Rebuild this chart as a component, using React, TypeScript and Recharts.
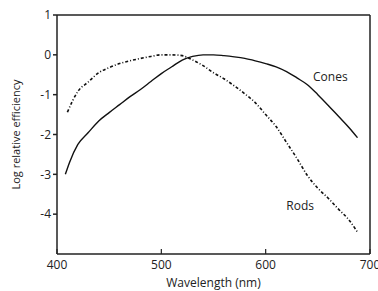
import { LineChart, Line, XAxis, YAxis, ReferenceLine, ReferenceDot } from "recharts"

// wavelength (nm) -> log relative efficiency
const coneWave = [408, 412, 420, 430, 440, 450, 460, 470, 480, 490, 500, 510, 520, 530, 540, 550, 560, 570, 580, 590, 600, 610, 620, 630, 640, 650, 660, 670, 680, 688]
const coneVals = [-3.0, -2.7, -2.25, -1.95, -1.66, -1.45, -1.25, -1.05, -0.87, -0.67, -0.47, -0.3, -0.13, -0.04, 0, 0, -0.02, -0.05, -0.09, -0.15, -0.22, -0.3, -0.42, -0.58, -0.75, -1.0, -1.27, -1.55, -1.83, -2.08]

const rodWave = [410, 415, 420, 430, 440, 450, 460, 470, 480, 490, 500, 510, 520, 530, 540, 550, 560, 570, 580, 590, 600, 610, 620, 630, 640, 650, 660, 670, 680, 688]
const rodVals = [-1.44, -1.15, -0.92, -0.68, -0.45, -0.32, -0.22, -0.15, -0.09, -0.04, 0, 0, -0.02, -0.13, -0.27, -0.45, -0.6, -0.78, -0.98, -1.2, -1.5, -1.8, -2.2, -2.6, -3.03, -3.35, -3.6, -3.88, -4.15, -4.45]

const xTicks = [400, 500, 600, 700]
const yTicks = [1, 0, -1, -2, -3, -4]

const cones = coneWave.map((w, i) => ({ w, v: coneVals[i] }))
const rods = rodWave.map((w, i) => ({ w, v: rodVals[i] }))

const ink = "#222"
const font = "'Open Sans', sans-serif"

// x ticks point into the plot, labels sit below the axis
const XTick = (props: any) => {
  const { x, y, payload } = props
  const axisY = y - 6
  return (
    <g>
      <line x1={x} x2={x} y1={axisY} y2={axisY - 5} stroke={ink} strokeWidth={1.2} />
      <text x={x} y={y} dy="0.71em" textAnchor="middle" fill={ink} fontSize={12} fontFamily={font}>
        {payload.value}
      </text>
    </g>
  )
}

export default function App() {
  return (
    <div style={{ position: "fixed", left: 0, top: 0, background: "#fff" }}>
      <LineChart width={378} height={291} margin={{ top: 15, right: 8, left: 0, bottom: 0 }}>
        <XAxis
          type="number"
          dataKey="w"
          domain={[400, 700]}
          ticks={xTicks}
          interval={0}
          allowDataOverflow
          height={37}
          stroke={ink}
          strokeWidth={1.5}
          tickSize={0}
          tickMargin={6}
          tick={<XTick />}
          label={{ value: "Wavelength (nm)", position: "insideBottom", offset: 4, fill: ink, fontSize: 12, fontFamily: font }}
        />
        <YAxis
          type="number"
          domain={[-5, 1]}
          ticks={yTicks}
          interval={0}
          allowDataOverflow
          width={57}
          stroke={ink}
          strokeWidth={1.5}
          tickSize={4}
          tickMargin={2}
          tick={{ fill: ink, fontSize: 12, fontFamily: font }}
          label={{ value: "Log relative efficiency", angle: -90, position: "insideLeft", offset: 16, style: { textAnchor: "middle" }, fill: ink, fontSize: 11, fontFamily: font }}
        />
        <ReferenceLine y={1} stroke={ink} strokeWidth={1.5} />
        <ReferenceLine x={700} stroke={ink} strokeWidth={1.5} />
        <Line data={cones} dataKey="v" type="monotone" stroke="#111" strokeWidth={1.4} dot={false} isAnimationActive={false} />
        <Line data={rods} dataKey="v" type="monotone" stroke="#111" strokeWidth={1.6} strokeDasharray="3 2 1 2" dot={false} isAnimationActive={false} />
        <ReferenceDot x={662} y={-0.55} r={0} label={{ value: "Cones", position: "center", fill: ink, fontSize: 12, fontFamily: font }} />
        <ReferenceDot x={633} y={-3.8} r={0} label={{ value: "Rods", position: "center", fill: ink, fontSize: 12, fontFamily: font }} />
      </LineChart>
    </div>
  )
}
